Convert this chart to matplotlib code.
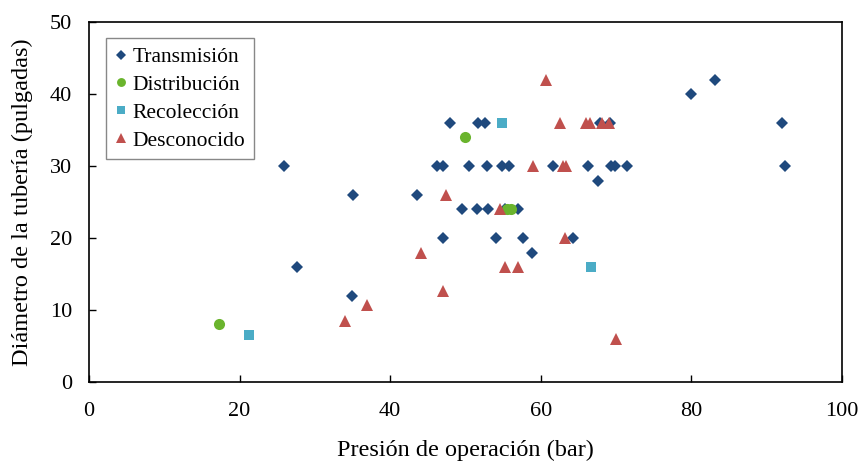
import matplotlib.pyplot as plt

plt.rcParams['font.family'] = ['Liberation Serif', 'DejaVu Serif']

# Transmisión
trans_x = [25.9, 27.6, 34.9, 35.0, 43.6, 46.2, 47.0, 47.0, 48.0, 49.6, 50.5, 51.5,
           51.6, 52.6, 52.8, 53.0, 54.1, 54.9, 55.2, 55.8, 57.0, 57.7, 58.9, 61.6,
           64.3, 66.3, 67.6, 67.9, 69.2, 69.3, 69.9, 71.4, 80.0, 83.2, 92.0, 92.4]
trans_y = [30, 16, 12, 26, 26, 30, 30, 20, 36, 24, 30, 24,
           36, 36, 30, 24, 20, 30, 24, 30, 24, 20, 18, 30,
           20, 30, 28, 36, 36, 30, 30, 30, 40, 42, 36, 30]

# Distribución
dist_x = [17.2, 50.0, 55.5, 56.1]
dist_y = [8, 34, 24, 24]

# Recolección
reco_x = [21.2, 54.9, 66.7]
reco_y = [6.5, 36, 16]

# Desconocido
desc_x = [34.0, 36.9, 44.1, 47.0, 47.4, 54.6, 55.2, 57.0, 59.0, 60.7,
          62.6, 63.0, 63.4, 63.2, 66.0, 66.5, 68.1, 69.0, 70.0]
desc_y = [8.5, 10.7, 18, 12.7, 26, 24, 16, 16, 30, 42,
          36, 30, 30, 20, 36, 36, 36, 36, 6]

fig = plt.figure(figsize=(8.6, 4.62), dpi=100)
ax = fig.add_axes([0.1035, 0.173, 0.8755, 0.779])

ax.plot(trans_x, trans_y, 'D', color='#1F497D', ms=6.2, mew=0, label='Transmisión')
ax.plot(dist_x, dist_y, 'o', color='#6AB42D', ms=8, mew=0, label='Distribución')
ax.plot(reco_x, reco_y, 's', color='#4BACC6', ms=7.8, mew=0, label='Recolección')
ax.plot(desc_x, desc_y, '^', color='#C0504D', ms=9, mew=0, label='Desconocido')

ax.set_xlim(0, 100)
ax.set_ylim(0, 50)
ax.set_xticks(range(0, 101, 20))
ax.set_yticks(range(0, 51, 10))
ax.tick_params(direction='in', labelsize=16, length=5, width=1)
ax.tick_params(axis='x', pad=14)
ax.tick_params(axis='y', pad=12)
for s in ax.spines.values():
    s.set_linewidth(1.2)

ax.set_xlabel('Presión de operación (bar)', fontsize=17.5, labelpad=14)
ax.set_ylabel('Diámetro de la tubería (pulgadas)', fontsize=17.5, labelpad=12)

leg = ax.legend(loc='upper left', bbox_to_anchor=(0.0226, 0.955), fontsize=15.5,
                borderaxespad=0, fancybox=False, edgecolor='#888888', framealpha=1,
                handlelength=0.6, handletextpad=0.25, borderpad=0.4,
                labelspacing=0.36, markerscale=0.8)
leg.get_frame().set_linewidth(1)

fig.savefig('out.png', dpi=100)
